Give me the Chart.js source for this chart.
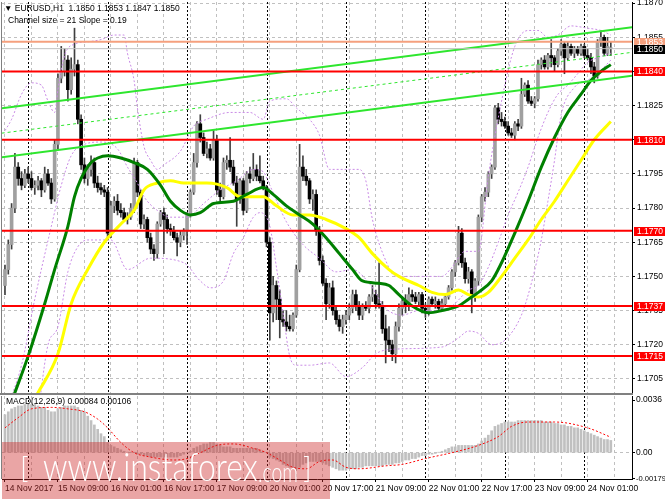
<!DOCTYPE html>
<html>
<head>
<meta charset="utf-8">
<title>EURUSD H1</title>
<script src="https://cdn.jsdelivr.net/npm/chart.js@4.4.1/dist/chart.umd.min.js"></script>
<style>
  html, body { margin: 0; padding: 0; background: #fff; }
  #wrap { position: relative; width: 665px; height: 499px; overflow: hidden;
          font-family: 'Liberation Sans', Arial, sans-serif; }
  canvas { position: absolute; left: 0; }
  #priceChart { top: 0; }
  #macdChart { top: 395px; }
  .txt { position: absolute; font-size: 8.5px; line-height: 10px; color: #000; white-space: pre; }
  #wm { position: absolute; left: 2px; top: 442px; width: 328px; height: 57px;
        background: rgba(205, 40, 40, 0.42); overflow: hidden; color: #fff; }
  #wm span { position: absolute; white-space: nowrap; font-family: Lato, 'Liberation Sans', sans-serif; font-weight: 300; }
</style>
</head>
<body>
<div id="wrap">
  <canvas id="priceChart" width="665" height="395"></canvas>
  <canvas id="macdChart" width="665" height="104"></canvas>
  <div class="txt" id="symbolText" style="left:4px; top:3px;"></div>
  <div class="txt" id="channelText" style="left:8px; top:15px;"></div>
  <div class="txt" id="macdText" style="left:6px; top:396px;"></div>
  <div id="wm">
    <span style="left:18px; top:10px; font-size:29px; line-height:29px;">[</span>
    <span style="left:41px; top:5px; font-size:39px; line-height:39px; transform:scaleX(0.82); transform-origin:0 0;">www.instaforex</span>
    <span style="left:256px; top:16px; font-size:27px; line-height:27px; transform:scaleX(0.72); transform-origin:0 0;">.com</span>
    <span style="left:301px; top:10px; font-size:29px; line-height:29px;">]</span>
  </div>
</div>
<script>
// EURUSD H1, 14 Nov 17:00 .. 24 Nov 08:00 (bar index 0..183)
const symbolName = 'EURUSD,H1';
const timeLabels = ['14 Nov 2017', '15 Nov 09:00', '16 Nov 01:00', '16 Nov 17:00', '17 Nov 09:00', '20 Nov 01:00',
                    '20 Nov 17:00', '21 Nov 09:00', '22 Nov 01:00', '22 Nov 17:00', '23 Nov 09:00', '24 Nov 01:00'];
const labelBars = [0, 16, 32, 48, 64, 80, 96, 112, 128, 144, 160, 176];
const gridBars = [0, 8, 16, 24, 32, 40, 48, 56, 64, 72, 80, 88, 96, 104, 112, 120, 128, 136, 144, 152, 160, 168, 176, 184];
const daySeparators = [7, 31, 55, 79, 103, 127, 151, 175];
const priceTicks = [1.1705, 1.1720, 1.1735, 1.1750, 1.1765, 1.1780, 1.1795, 1.1810, 1.1825, 1.1840, 1.1855, 1.1870];

const open = [
  1.1746,1.1753,1.1764,1.1780,1.1798,1.1793,1.1790,1.1795,1.1793,1.1789,
  1.1790,1.1792,1.1788,1.1795,1.1791,1.1784,1.1808,1.1837,1.1840,1.1845,
  1.1832,1.1841,1.1843,1.1819,1.1799,1.1793,1.1797,1.1800,1.1791,1.1789,
  1.1788,1.1787,1.1769,1.1781,1.1783,1.1779,1.1778,1.1775,1.1776,1.1780,
  1.1800,1.1787,1.1773,1.1775,1.1767,1.1762,1.1760,1.1773,1.1778,1.1775,
  1.1771,1.1770,1.1767,1.1765,1.1768,1.1770,1.1777,1.1787,1.1800,1.1817,
  1.1811,1.1804,1.1806,1.1802,1.1810,1.1788,1.1785,1.1800,1.1801,1.1798,
  1.1791,1.1784,1.1792,1.1779,1.1795,1.1793,1.1797,1.1794,1.1792,1.1789,
  1.1765,1.1734,1.1746,1.1740,1.1731,1.1730,1.1728,1.1727,1.1733,1.1753,
  1.1798,1.1794,1.1792,1.1784,1.1786,1.1770,1.1757,1.1747,1.1738,1.1745,
  1.1735,1.1731,1.1728,1.1731,1.1733,1.1736,1.1742,1.1737,1.1733,1.1737,
  1.1736,1.1741,1.1742,1.1738,1.1737,1.1727,1.1722,1.1720,1.1716,1.1728,
  1.1736,1.1739,1.1737,1.1742,1.1741,1.1739,1.1742,1.1736,1.1734,1.1740,
  1.1738,1.1739,1.1736,1.1738,1.1741,1.1745,1.1752,1.1756,1.1769,1.1756,
  1.1749,1.1752,1.1741,1.1748,1.1776,1.1785,1.1787,1.1795,1.1798,1.1824,
  1.1819,1.1818,1.1816,1.1813,1.1812,1.1817,1.1816,1.1830,1.1834,1.1827,
  1.1826,1.1828,1.1843,1.1845,1.1842,1.1847,1.1846,1.1843,1.1849,1.1852,
  1.1846,1.1851,1.1848,1.1850,1.1848,1.1851,1.1847,1.1846,1.1842,1.1838,
  1.1853,1.1855,1.1848,1.1850
];
const high = [
  1.1755,1.1766,1.1782,1.1804,1.1800,1.1796,1.1797,1.1798,1.1796,1.1792,
  1.1794,1.1793,1.1798,1.1797,1.1793,1.1810,1.1839,1.1851,1.1850,1.1847,
  1.1846,1.1859,1.1845,1.1821,1.1802,1.1799,1.1803,1.1802,1.1794,1.1791,
  1.1790,1.1789,1.1783,1.1785,1.1786,1.1782,1.1780,1.1778,1.1782,1.1802,
  1.1801,1.1788,1.1777,1.1776,1.1769,1.1764,1.1774,1.1779,1.1780,1.1777,
  1.1773,1.1772,1.1769,1.1770,1.1771,1.1778,1.1788,1.1804,1.1818,1.1821,
  1.1813,1.1809,1.1808,1.1814,1.1812,1.1791,1.1802,1.1803,1.1811,1.1801,
  1.1794,1.1793,1.1793,1.1796,1.1798,1.1804,1.1799,1.1803,1.1794,1.1790,
  1.1767,1.1750,1.1748,1.1744,1.1735,1.1735,1.1733,1.1734,1.1755,1.1808,
  1.1803,1.1797,1.1793,1.1788,1.1788,1.1772,1.1759,1.1749,1.1747,1.1748,
  1.1737,1.1733,1.1733,1.1735,1.1738,1.1744,1.1744,1.1739,1.1738,1.1739,
  1.1742,1.1746,1.1744,1.1756,1.1739,1.1733,1.1728,1.1722,1.1730,1.1738,
  1.1741,1.1742,1.1745,1.1744,1.1743,1.1743,1.1743,1.1738,1.1741,1.1741,
  1.1741,1.1740,1.1740,1.1742,1.1746,1.1753,1.1757,1.1772,1.1771,1.1758,
  1.1754,1.1753,1.1749,1.1777,1.1786,1.1789,1.1796,1.1799,1.1825,1.1826,
  1.1822,1.1820,1.1818,1.1815,1.1818,1.1819,1.1837,1.1835,1.1836,1.1829,
  1.1829,1.1845,1.1846,1.1847,1.1848,1.1854,1.1847,1.1850,1.1854,1.1853,
  1.1853,1.1852,1.1851,1.1851,1.1852,1.1852,1.1850,1.1848,1.1844,1.1854,
  1.1858,1.1856,1.1855,1.1853
];
const low = [
  1.1742,1.1751,1.1762,1.1778,1.1790,1.1788,1.1789,1.1791,1.1788,1.1786,
  1.1788,1.1785,1.1787,1.1790,1.1782,1.1783,1.1806,1.1835,1.1838,1.1827,
  1.1830,1.1838,1.1817,1.1797,1.1791,1.1790,1.1794,1.1789,1.1787,1.1786,
  1.1785,1.1766,1.1767,1.1778,1.1777,1.1776,1.1774,1.1773,1.1775,1.1778,
  1.1785,1.1771,1.1771,1.1765,1.1760,1.1757,1.1758,1.1772,1.1760,1.1769,
  1.1768,1.1766,1.1759,1.1763,1.1766,1.1764,1.1776,1.1786,1.1798,1.1809,
  1.1803,1.1802,1.1801,1.1801,1.1786,1.1783,1.1784,1.1797,1.1796,1.1790,
  1.1772,1.1782,1.1777,1.1778,1.1791,1.1792,1.1792,1.1791,1.1788,1.1763,
  1.1722,1.1730,1.1731,1.1723,1.1728,1.1726,1.1726,1.1726,1.1732,1.1752,
  1.1792,1.1790,1.1782,1.1779,1.1768,1.1755,1.1746,1.1731,1.1736,1.1733,
  1.1729,1.1726,1.1725,1.1729,1.1731,1.1734,1.1735,1.1731,1.1731,1.1735,
  1.1734,1.1739,1.1736,1.1736,1.1725,1.1712,1.1717,1.1713,1.1712,1.1726,
  1.1733,1.1734,1.1735,1.1739,1.1738,1.1737,1.1734,1.1732,1.1733,1.1737,
  1.1736,1.1735,1.1735,1.1737,1.1740,1.1744,1.1750,1.1755,1.1754,1.1747,
  1.1747,1.1734,1.1739,1.1746,1.1774,1.1783,1.1785,1.1793,1.1797,1.1817,
  1.1816,1.1815,1.1812,1.1811,1.1810,1.1814,1.1815,1.1829,1.1826,1.1825,
  1.1824,1.1827,1.1841,1.1841,1.1841,1.1842,1.1840,1.1842,1.1847,1.1839,
  1.1845,1.1847,1.1846,1.1847,1.1847,1.1846,1.1845,1.1839,1.1835,1.1837,
  1.1851,1.1847,1.1847,1.1847
];
const close = [
  1.1753,1.1764,1.1780,1.1798,1.1793,1.1790,1.1795,1.1793,1.1789,1.1790,
  1.1792,1.1788,1.1795,1.1791,1.1784,1.1808,1.1837,1.1840,1.1845,1.1832,
  1.1841,1.1843,1.1819,1.1799,1.1793,1.1797,1.1800,1.1791,1.1789,1.1788,
  1.1787,1.1769,1.1781,1.1783,1.1779,1.1778,1.1775,1.1776,1.1780,1.1800,
  1.1787,1.1773,1.1775,1.1767,1.1762,1.1760,1.1773,1.1778,1.1775,1.1771,
  1.1770,1.1767,1.1765,1.1768,1.1770,1.1777,1.1787,1.1800,1.1817,1.1811,
  1.1804,1.1806,1.1802,1.1810,1.1788,1.1785,1.1800,1.1801,1.1798,1.1791,
  1.1784,1.1792,1.1779,1.1795,1.1793,1.1797,1.1794,1.1792,1.1789,1.1765,
  1.1734,1.1746,1.1740,1.1731,1.1730,1.1728,1.1727,1.1733,1.1753,1.1798,
  1.1794,1.1792,1.1784,1.1786,1.1770,1.1757,1.1747,1.1738,1.1745,1.1735,
  1.1731,1.1728,1.1731,1.1733,1.1736,1.1742,1.1737,1.1733,1.1737,1.1736,
  1.1741,1.1742,1.1738,1.1737,1.1727,1.1722,1.1720,1.1716,1.1728,1.1736,
  1.1739,1.1737,1.1742,1.1741,1.1739,1.1742,1.1736,1.1734,1.1740,1.1738,
  1.1739,1.1736,1.1738,1.1741,1.1745,1.1752,1.1756,1.1769,1.1756,1.1749,
  1.1752,1.1741,1.1748,1.1776,1.1785,1.1787,1.1795,1.1798,1.1824,1.1819,
  1.1818,1.1816,1.1813,1.1812,1.1817,1.1816,1.1830,1.1834,1.1827,1.1826,
  1.1828,1.1843,1.1845,1.1842,1.1847,1.1846,1.1843,1.1849,1.1852,1.1846,
  1.1851,1.1848,1.1850,1.1848,1.1851,1.1847,1.1846,1.1842,1.1838,1.1853,
  1.1855,1.1848,1.1851,1.1850
];

// moving averages (dark green, yellow), read at bar positions
const greenBars = [0,3,7,12,15,19,21,23,26,28,31,35,39,43,47,50,53,56,59,63,69,73,78,81,85,89,93,97,101,105,
                   108,113,116,119,123,128,132,137,140,143,147,150,154,158,162,166,170,174,177,180,183];
const greenVals = [1.1687,1.1699,1.1715,1.1738,1.1753,1.1772,1.1785,1.1793,1.1800,1.1802,1.1803,1.1802,1.1800,1.1797,
                   1.1790,1.1783,1.1779,1.1777,1.1778,1.1782,1.1783,1.1786,1.1789,1.1786,1.1781,1.1777,1.1773,1.1767,
                   1.1760,1.1753,1.1748,1.1747,1.1746,1.1742,1.1737,1.1734,1.1735,1.1737,1.1740,1.1743,1.1748,1.1756,
                   1.1769,1.1783,1.1798,1.1811,1.1822,1.1830,1.1836,1.1840,1.1843];
const yellowBars = [8,10,16,20,25,30,35,39,42,46,50,54,57,61,67,71,78,82,87,92,97,103,107,111,116,119,125,129,133,137,
                    140,143,146,150,154,158,162,166,170,174,178,183];
const yellowVals = [1.1694,1.1699,1.1716,1.1738,1.1753,1.1765,1.1773,1.1779,1.1788,1.1791,1.1792,1.1791,1.1791,1.1791,
                    1.1789,1.1785,1.1785,1.1781,1.1777,1.1777,1.1775,1.1771,1.1767,1.1760,1.1753,1.1750,1.1746,1.1743,
                    1.1742,1.1744,1.1742,1.1741,1.1743,1.1750,1.1758,1.1766,1.1775,1.1783,1.1792,1.1801,1.1810,1.1818];

// bands (violet dotted)
const upperBars = [0,2,5,8,11,13,15,16,18,21,25,29,33,36,37,39,40,42,44,46,48,53,57,61,68,74,78,80,85,88,
                   92,95,98,103,107,109,111,115,118,122,132,135,139,143,146,150,154,158,161,164,167,171,176,180,183];
const upperVals = [1.1814,1.1819,1.1830,1.1835,1.1834,1.1827,1.1822,1.1832,1.1847,1.1852,1.1853,1.1854,1.1856,1.1856,
                   1.1848,1.1836,1.1824,1.1807,1.1801,1.1797,1.1799,1.1805,1.1816,1.1819,1.1822,1.1822,1.1819,1.1827,
                   1.1828,1.1824,1.1819,1.1812,1.1797,1.1797,1.1797,1.1792,1.1775,1.1757,1.1750,1.1750,1.1750,1.1754,
                   1.1761,1.1761,1.1794,1.1827,1.1851,1.1858,1.1858,1.1855,1.1856,1.1860,1.1859,1.1858,1.1856];
const midBars = [0,5,9,14,17,20,24,29,34,37,40,42,46,50,55,60,65,70,75,78,80,85,90,95,100,105,110,115,120,125,
                 130,135,140,143,146,149,152,155,158,161,164,167,170,173,176,179,183];
const midVals = [1.1690,1.1711,1.1740,1.1772,1.1790,1.1803,1.1808,1.1809,1.1806,1.1798,1.1791,1.1785,1.1779,1.1776,
                 1.1776,1.1782,1.1788,1.1792,1.1797,1.1796,1.1790,1.1774,1.1764,1.1758,1.1752,1.1753,1.1747,1.1736,
                 1.1733,1.1735,1.1735,1.1737,1.1744,1.1746,1.1754,1.1765,1.1777,1.1787,1.1798,1.1811,1.1822,1.1830,
                 1.1834,1.1839,1.1844,1.1846,1.1848];
const lowBars = [0,6,10,13,16,19,22,25,32,37,44,54,59,62,66,69,72,75,77,80,82,84,86,88,92,98,103,108,112,117,
                 132,137,140,143,147,151,156,159,162,164,166,168,172,177,181,183];
const lowVals = [1.1620,1.1650,1.1690,1.1720,1.1728,1.1752,1.1763,1.1766,1.1766,1.1753,1.1758,1.1756,1.1748,1.1745,
                 1.1748,1.1760,1.1767,1.1776,1.1778,1.1772,1.1754,1.1734,1.1715,1.1711,1.1711,1.1712,1.1706,1.1710,
                 1.1716,1.1718,1.1719,1.1723,1.1726,1.1725,1.1720,1.1722,1.1733,1.1747,1.1766,1.1783,1.1801,1.1821,
                 1.1833,1.1837,1.1842,1.1845];

// regression channel
const channelSize = 21, channelSlope = 0.19;
const chanBars = [-1, 190];
const chanUpper = [1.18238, 1.18595];
const chanMid = [1.18129, 1.18485];
const chanLower = [1.18023, 1.18382];

// horizontal levels
const levels = [1.1840, 1.1810, 1.1770, 1.1737, 1.1715];
const askPrice = 1.1853;
const bidPrice = 1.1850;

// MACD(12,26,9)
const macdHist = [
  0.0026,0.0028,0.0030,0.0031,0.0032,0.0032,0.0033,0.0033,0.0033,0.0033,
  0.0032,0.0031,0.0031,0.0029,0.0028,0.0028,0.0030,0.0031,0.0032,0.0032,
  0.0032,0.0032,0.0031,0.0029,0.0028,0.0025,0.0022,0.0019,0.0016,0.0013,
  0.0011,0.0007,0.0005,0.0004,0.0003,0.0002,0.0001,0.00004,0.00002,0.00001,
  -0.0001,-0.0001,-0.0002,-0.0002,-0.0003,-0.0003,-0.0003,-0.0003,-0.0003,-0.0003,
  -0.0003,-0.0003,-0.0003,-0.0002,-0.0001,0.00002,0.0001,0.0003,0.0004,0.0005,
  0.0006,0.0006,0.0007,0.0007,0.0006,0.0005,0.0004,0.0004,0.0004,0.0003,
  0.0003,0.0003,0.0003,0.0003,0.0003,0.0003,0.0003,0.0002,0.0001,0.00002,
  -0.0003,-0.0004,-0.0005,-0.0006,-0.0008,-0.0009,-0.0010,-0.0010,-0.0011,-0.0010,
  -0.0008,-0.0007,-0.0006,-0.0006,-0.0006,-0.0006,-0.0007,-0.0008,-0.0009,-0.0010,
  -0.0011,-0.0012,-0.0012,-0.0012,-0.0011,-0.0011,-0.0011,-0.0010,-0.0010,-0.0009,
  -0.0009,-0.0009,-0.0009,-0.0009,-0.0009,-0.0008,-0.0008,-0.0008,-0.0007,-0.0007,
  -0.0006,-0.0005,-0.0005,-0.0004,-0.0004,-0.0003,-0.0002,-0.0002,-0.0001,-0.0001,
  -0.00005,0.00002,0.0001,0.0002,0.0003,0.0004,0.0004,0.0005,0.0005,0.0005,
  0.0005,0.0005,0.0005,0.0006,0.0008,0.0010,0.0012,0.0015,0.0018,0.0019,
  0.0020,0.0021,0.0021,0.0021,0.0021,0.0022,0.0022,0.0022,0.0022,0.0022,
  0.0022,0.0022,0.0022,0.0021,0.0021,0.0021,0.0020,0.0020,0.0019,0.0019,
  0.0018,0.0018,0.0017,0.0017,0.0016,0.0015,0.0014,0.0013,0.0012,0.0011,
  0.0010,0.0009,0.0009,0.00084
];
const sigBars = [0,4,8,14,19,24,28,31,35,39,44,51,55,59,64,69,75,79,83,87,91,95,99,103,107,115,120,127,135,143,
                 149,153,158,166,176,183];
const sigVals = [0.0017,0.0024,0.0030,0.0031,0.0030,0.0028,0.0023,0.0017,0.0007,0.0000,-0.0003,-0.0005,-0.0004,0.0000,
                 0.0005,0.0006,0.0003,0.0000,-0.0005,-0.0010,-0.0011,-0.0006,-0.0005,-0.0010,-0.0011,-0.0009,-0.0008,
                 -0.0004,0.0000,0.0005,0.0011,0.0018,0.0021,0.0021,0.0017,0.00106];
const macdTicks = [-0.00179, 0, 0.0036];
const macdTickLabels = ['-0.00179', '0.00', '0.0036'];

// header texts
const last = close.length - 1;
document.getElementById('symbolText').textContent = '\u25BC ' + symbolName + '  ' +
  [open[last], high[last], low[last], close[last]].map(v => v.toFixed(4)).join(' ');
document.getElementById('channelText').textContent = 'Channel size = ' + channelSize + ' Slope = ' + channelSlope.toFixed(2);
document.getElementById('macdText').textContent = 'MACD(12,26,9) ' + macdHist[last].toFixed(5) + ' ' +
  sigVals[sigVals.length - 1].toFixed(5);

Chart.defaults.font.family = "'Liberation Sans', Arial, sans-serif";
Chart.defaults.font.size = 8.5;
Chart.defaults.color = '#000';

const X_MIN = -0.9, X_MAX = 189.4;
const pts = (xs, ys) => xs.map((x, i) => ({ x: x, y: ys[i] }));
const isUp = i => close[i] >= open[i];

// keep label overflow from shrinking the plot area
const noPad = s => { s.paddingTop = 0; s.paddingBottom = 0; s.paddingLeft = 0; s.paddingRight = 0; };

function timeAxis(withLabels) {
  return {
    type: 'linear', min: X_MIN, max: X_MAX, offset: false,
    afterBuildTicks: s => { s.ticks = gridBars.map(v => ({ value: v })); },
    grid: {
      offset: false, color: '#c0c0c0', lineWidth: 1, drawTicks: withLabels, tickLength: 3,
      tickColor: c => (c.tick && labelBars.includes(c.tick.value)) ? '#000' : 'rgba(0,0,0,0)'
    },
    border: { display: withLabels, color: '#000', dash: [3, 3] },
    ticks: {
      display: withLabels, autoSkip: false, maxRotation: 0, minRotation: 0, align: 'start', padding: 2,
      callback: v => { const k = labelBars.indexOf(v); return k < 0 ? '' : timeLabels[k]; }
    },
    afterFit: s => { s.height = withLabels ? 20 : 0; noPad(s); }
  };
}

// dotted period separators at the first bar of each day
const daySep = {
  id: 'daySep',
  beforeDatasetsDraw(chart) {
    const { ctx, chartArea: a, scales: { x } } = chart;
    ctx.save();
    ctx.strokeStyle = '#000';
    ctx.lineWidth = 1;
    ctx.setLineDash([2, 2]);
    daySeparators.forEach(b => {
      const px = Math.round(x.getPixelForValue(b)) + 0.5;
      ctx.beginPath();
      ctx.moveTo(px, a.top);
      ctx.lineTo(px, a.bottom);
      ctx.stroke();
    });
    ctx.restore();
  }
};

const frame = {
  id: 'frame',
  afterDraw(chart) {
    const { ctx, chartArea: a } = chart;
    ctx.save();
    ctx.fillStyle = '#808080';
    ctx.fillRect(a.left - 1, a.top, 1, a.bottom - a.top);
    if (chart.canvas.id === 'priceChart') ctx.fillRect(0, a.bottom, a.right + 1, 2);
    ctx.restore();
  }
};

// horizontal levels, ask/bid lines and their price tags on the axis
const priceLines = {
  id: 'priceLines',
  afterDatasetsDraw(chart) {
    const { ctx, chartArea: a, scales: { y } } = chart;
    const hline = (v, color, w) => {
      const py = y.getPixelForValue(v);
      ctx.strokeStyle = color;
      ctx.lineWidth = w;
      ctx.beginPath();
      ctx.moveTo(a.left, py);
      ctx.lineTo(a.right, py);
      ctx.stroke();
    };
    ctx.save();
    hline(bidPrice, '#c0c0c0', 1);
    hline(askPrice, '#f5a07e', 2);
    levels.forEach(v => hline(v, '#ff0000', 2));
    ctx.restore();
  },
  afterDraw(chart) {
    const { ctx, chartArea: a, scales: { y } } = chart;
    const tag = (v, bg, fg) => {
      const py = Math.round(y.getPixelForValue(v));
      ctx.fillStyle = bg;
      ctx.fillRect(a.right + 2, py - 4, chart.width - a.right - 2, 9);
      ctx.fillStyle = fg;
      ctx.fillText(v.toFixed(4), a.right + 5, py + 0.5);
    };
    ctx.save();
    ctx.font = "8.5px 'Liberation Sans', Arial, sans-serif";
    ctx.textBaseline = 'middle';
    ctx.textAlign = 'left';
    levels.forEach(v => tag(v, '#ff0000', '#fff'));
    tag(askPrice, '#f5a07e', '#fff');
    tag(bidPrice, '#000', '#fff');
    ctx.restore();
  }
};

const lineStyle = { type: 'line', pointRadius: 0, fill: false, cubicInterpolationMode: 'monotone' };

new Chart(document.getElementById('priceChart'), {
  type: 'bar',
  data: {
    datasets: [
      { ...lineStyle, data: pts(chanBars, chanUpper), borderColor: '#2ee62e', borderWidth: 2, order: 1 },
      { ...lineStyle, data: pts(chanBars, chanMid), borderColor: '#2ee62e', borderWidth: 1, borderDash: [3, 3], order: 1 },
      { ...lineStyle, data: pts(chanBars, chanLower), borderColor: '#2ee62e', borderWidth: 2, order: 1 },
      { ...lineStyle, data: pts(greenBars, greenVals), borderColor: '#008000', borderWidth: 3, order: 2 },
      { ...lineStyle, data: pts(yellowBars, yellowVals), borderColor: '#ffff00', borderWidth: 3, order: 2 },
      { ...lineStyle, data: pts(upperBars, upperVals), borderColor: '#c98be6', borderWidth: 1, borderDash: [2, 2], order: 3 },
      { ...lineStyle, data: pts(midBars, midVals), borderColor: '#c98be6', borderWidth: 1, borderDash: [2, 2], order: 3 },
      { ...lineStyle, data: pts(lowBars, lowVals), borderColor: '#c98be6', borderWidth: 1, borderDash: [2, 2], order: 3 },
      {
        type: 'bar', data: open.map((o, i) => ({ x: i, y: [o, close[i]] })),
        backgroundColor: c => isUp(c.dataIndex) ? '#a0a0a0' : '#000',
        barThickness: 3, grouped: false, minBarLength: 1, order: 4
      },
      {
        type: 'bar', data: open.map((o, i) => ({ x: i, y: [low[i], high[i]] })),
        backgroundColor: '#404040', barThickness: 1, grouped: false, order: 5
      }
    ]
  },
  options: {
    responsive: false, animation: false, events: [],
    layout: { padding: { left: 2, top: 2, right: 0, bottom: 2 } },
    plugins: { legend: { display: false }, tooltip: { enabled: false } },
    scales: {
      x: timeAxis(false),
      y: {
        position: 'right', min: 1.16988, max: 1.18705, beginAtZero: false,
        afterBuildTicks: s => { s.ticks = priceTicks.map(v => ({ value: v })); },
        grid: { color: '#c0c0c0', drawTicks: true, tickLength: 3, tickColor: '#000' },
        border: { color: '#000', dash: [3, 3] },
        ticks: { padding: 2, callback: v => v.toFixed(4) },
        afterFit: s => { s.width = 33; noPad(s); }
      }
    }
  },
  plugins: [daySep, frame, priceLines]
});

new Chart(document.getElementById('macdChart'), {
  type: 'bar',
  data: {
    datasets: [
      { ...lineStyle, data: pts(sigBars, sigVals), borderColor: '#ff0000', borderWidth: 1, borderDash: [2, 2], order: 1 },
      {
        type: 'bar', data: macdHist.map((v, i) => ({ x: i, y: v })),
        backgroundColor: '#c0c0c0', barThickness: 2, grouped: false, order: 2
      }
    ]
  },
  options: {
    responsive: false, animation: false, events: [],
    layout: { padding: { left: 2, top: 1, right: 0, bottom: 0 } },
    plugins: { legend: { display: false }, tooltip: { enabled: false } },
    scales: {
      x: timeAxis(true),
      y: {
        position: 'right', min: -0.0018, max: 0.00388, beginAtZero: false,
        afterBuildTicks: s => { s.ticks = macdTicks.map(v => ({ value: v })); },
        grid: {
          color: c => (c.tick && c.tick.value === 0) ? '#c0c0c0' : 'rgba(0,0,0,0)',
          drawTicks: true, tickLength: 3, tickColor: '#000'
        },
        border: { color: '#000', dash: [3, 3] },
        ticks: {
          padding: 1,
          font: c => ({ family: "'Liberation Sans', Arial, sans-serif", size: (c.tick && c.tick.value < 0) ? 7.6 : 8.5 }),
          callback: (v, i) => macdTickLabels[i]
        },
        afterFit: s => { s.width = 33; noPad(s); }
      }
    }
  },
  plugins: [daySep, frame]
});
</script>
</body>
</html>
